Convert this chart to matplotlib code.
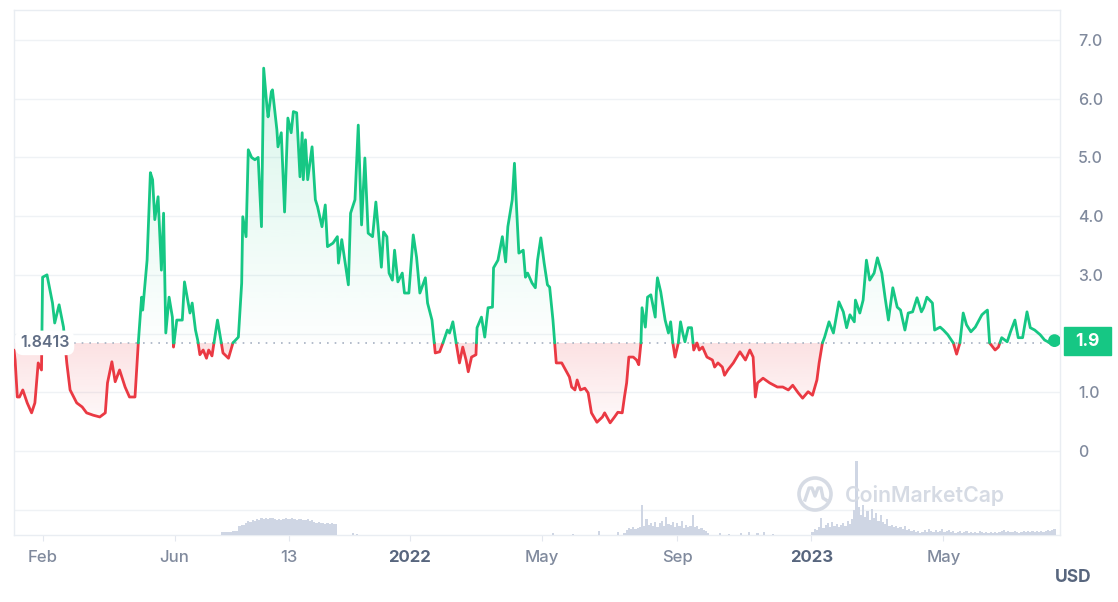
import numpy as np
import pandas as pd
import matplotlib
matplotlib.use("Agg")
import matplotlib.pyplot as plt
import matplotlib.dates as mdates
from matplotlib.path import Path
from matplotlib.patches import Rectangle, Ellipse
from matplotlib.lines import Line2D

plt.rcParams['font.family'] = ['Inter', 'DejaVu Sans']

# ---------------- data ----------------
START = "2021-01-06"
day = [0, 1, 3, 5, 8, 12, 16, 19, 22, 25,
       26, 30, 35, 37, 41, 45, 48, 51, 57, 62,
       66, 72, 78, 83, 85, 89, 92, 96, 101, 105,
       110, 113, 116, 117, 121, 124, 126, 128, 131, 134,
       136, 138, 141, 144, 145, 148, 153, 155, 160, 162,
       165, 167, 169, 172, 175, 177, 180, 185, 187, 190,
       195, 199, 204, 207, 208, 211, 213, 216, 219, 222,
       225, 227, 230, 231, 234, 235, 239, 240, 243, 246,
       249, 252, 254, 257, 260, 262, 263, 265, 267, 271,
       274, 276, 280, 283, 285, 290, 294, 295, 298, 304,
       306, 310, 313, 316, 319, 322, 326, 329, 331, 334,
       336, 339, 341, 344, 346, 349, 353, 355, 359, 363,
       366, 369, 374, 376, 380, 383, 387, 390, 394, 396,
       399, 402, 405, 408, 411, 413, 416, 420, 421, 425,
       428, 431, 435, 436, 440, 444, 447, 449, 453, 455,
       457, 459, 463, 465, 467, 471, 474, 476, 479, 482,
       485, 487, 490, 493, 498, 503, 505, 507, 510, 512,
       515, 519, 522, 525, 530, 535, 537, 542, 546, 549,
       553, 555, 557, 559, 563, 566, 568, 570, 571, 574,
       576, 579, 583, 584, 585, 588, 592, 595, 597, 599,
       601, 604, 606, 608, 610, 613, 616, 618, 621, 623,
       626, 630, 635, 637, 640, 644, 646, 649, 654, 660,
       665, 669, 672, 674, 676, 681, 687, 694, 699, 704,
       708, 713, 717, 722, 726, 730, 732, 735, 737, 741,
       745, 750, 754, 757, 760, 764, 765, 769, 772, 775,
       778, 782, 785, 789, 792, 795, 799, 803, 806, 810,
       813, 817, 821, 825, 827, 830, 835, 837, 842, 845,
       849, 854, 857, 860, 863, 866, 870, 874, 876, 880,
       883, 885, 887, 892, 895, 898, 903, 906, 910, 913,
       917, 921, 924, 928, 933, 937, 942, 946]
price = [1.72, 1.55, 0.92, 0.92, 1.04, 0.82, 0.65, 0.82, 1.50, 1.38,
         2.96, 3.00, 2.52, 2.18, 2.49, 2.11, 1.50, 1.04, 0.82, 0.75,
         0.65, 0.61, 0.58, 0.65, 1.16, 1.52, 1.18, 1.38, 1.09, 0.92,
         0.92, 1.84, 2.62, 2.40, 3.25, 4.74, 4.62, 3.94, 4.33, 3.08,
         4.05, 2.01, 2.62, 2.28, 1.77, 2.23, 2.23, 2.88, 2.35, 2.52,
         2.06, 1.89, 1.64, 1.72, 1.58, 1.72, 1.62, 2.23, 2.01, 1.67,
         1.58, 1.84, 1.94, 2.86, 3.99, 3.65, 5.13, 5.00, 4.96, 5.00,
         3.82, 6.52, 5.86, 5.69, 6.12, 6.15, 5.47, 5.18, 5.42, 4.07,
         5.67, 5.42, 5.78, 5.76, 4.67, 5.42, 4.62, 5.30, 4.62, 5.18,
         4.28, 4.16, 3.82, 4.19, 3.48, 3.54, 3.65, 3.20, 3.60, 2.83,
         4.05, 4.28, 5.55, 3.85, 4.99, 3.71, 3.65, 4.24, 3.82, 3.13,
         3.73, 3.65, 3.03, 2.91, 3.42, 2.88, 3.03, 2.69, 2.69, 3.68,
         3.30, 2.69, 2.95, 2.52, 2.23, 1.67, 1.69, 1.84, 2.06, 2.01,
         2.20, 1.84, 1.50, 1.77, 1.55, 1.35, 1.60, 1.64, 2.10, 2.28,
         1.94, 2.44, 2.45, 3.12, 3.25, 3.65, 3.22, 3.82, 4.28, 4.90,
         4.11, 3.37, 3.42, 2.96, 3.03, 2.86, 2.78, 3.25, 3.63, 3.20,
         2.83, 2.79, 2.23, 1.50, 1.50, 1.33, 1.26, 1.09, 1.04, 1.21,
         1.04, 1.07, 0.99, 0.65, 0.49, 0.58, 0.65, 0.48, 0.58, 0.66,
         0.65, 0.92, 1.16, 1.60, 1.60, 1.55, 1.47, 1.84, 2.44, 2.11,
         2.62, 2.66, 2.28, 2.71, 2.95, 2.71, 2.23, 2.01, 2.20, 1.84,
         1.60, 1.84, 2.20, 2.01, 1.86, 2.10, 2.10, 1.72, 1.84, 1.72,
         1.77, 1.60, 1.55, 1.43, 1.50, 1.43, 1.29, 1.38, 1.50, 1.69,
         1.55, 1.72, 1.60, 0.92, 1.16, 1.24, 1.16, 1.09, 1.09, 1.04,
         1.12, 0.99, 0.90, 1.01, 0.95, 1.21, 1.50, 1.84, 1.94, 2.20,
         2.01, 2.54, 2.37, 2.10, 2.32, 2.20, 2.57, 2.35, 2.57, 3.25,
         2.91, 3.03, 3.29, 3.03, 2.61, 2.23, 2.78, 2.45, 2.40, 2.06,
         2.35, 2.37, 2.61, 2.37, 2.44, 2.62, 2.52, 2.06, 2.11, 2.06,
         1.98, 1.84, 1.65, 1.84, 2.35, 2.15, 2.03, 2.11, 2.18, 2.32,
         2.37, 2.40, 1.84, 1.72, 1.77, 1.93, 1.86, 2.03, 2.23, 1.93,
         1.93, 2.37, 2.10, 2.06, 1.98, 1.89, 1.84, 1.88]

# trading volume (relative units), days since START
vol_day = [189, 191, 193, 195, 197, 199, 201, 203, 205, 207,
           209, 211, 213, 215, 217, 219, 221, 223, 225, 227,
           229, 231, 233, 235, 237, 239, 241, 243, 245, 247,
           249, 251, 253, 255, 257, 259, 261, 263, 265, 267,
           269, 271, 273, 275, 277, 279, 281, 283, 285, 287,
           289, 291, 293, 308, 312, 490, 508, 532, 549, 555,
           557, 559, 561, 563, 565, 567, 569, 571, 573, 575,
           577, 579, 581, 583, 585, 587, 589, 591, 593, 595,
           597, 599, 601, 603, 605, 607, 609, 611, 613, 615,
           617, 619, 621, 623, 625, 627, 629, 631, 642, 650,
           661, 668, 676, 682, 690, 726, 728, 730, 732, 734,
           736, 738, 740, 742, 744, 746, 748, 750, 752, 754,
           756, 758, 760, 762, 764, 766, 768, 770, 772, 774,
           776, 778, 780, 782, 784, 786, 788, 790, 792, 794,
           796, 798, 800, 802, 804, 806, 808, 810, 812, 814,
           816, 818, 820, 822, 824, 826, 828, 830, 832, 834,
           836, 838, 840, 842, 844, 846, 848, 850, 852, 854,
           856, 858, 860, 862, 864, 866, 868, 870, 872, 874,
           876, 878, 880, 882, 884, 886, 888, 890, 892, 894,
           896, 898, 900, 902, 904, 906, 908, 910, 912, 914,
           916, 918, 920, 922, 924, 926, 928, 930, 932, 934,
           936, 938, 940, 942, 944, 946]
volume = [3, 3, 3, 3, 3, 4, 4, 4, 9, 10,
          10, 12, 14, 13, 15, 14, 16, 15, 17, 16,
          17, 16, 17, 17, 16, 15, 16, 15, 16, 17,
          16, 16, 17, 16, 15, 16, 16, 15, 15, 16,
          14, 15, 13, 12, 13, 12, 12, 11, 12, 11,
          12, 11, 11, 2, 1, 2, 1, 4, 3, 2,
          5, 7, 6, 8, 6, 7, 8, 30, 9, 16,
          10, 12, 9, 13, 8, 12, 14, 9, 18, 11,
          10, 13, 8, 12, 9, 14, 7, 10, 8, 9,
          20, 8, 9, 6, 7, 5, 4, 2, 2, 1,
          2, 3, 2, 3, 1, 3, 6, 5, 8, 17,
          7, 10, 12, 8, 13, 9, 11, 8, 10, 12,
          9, 14, 11, 16, 25, 74, 28, 20, 30, 18,
          24, 15, 26, 17, 22, 14, 20, 13, 11, 16,
          9, 10, 8, 9, 7, 8, 6, 9, 5, 6,
          4, 5, 3, 4, 2, 3, 5, 3, 6, 4,
          3, 5, 3, 4, 6, 3, 4, 5, 3, 4,
          2, 3, 4, 2, 3, 4, 2, 3, 2, 3,
          2, 4, 3, 2, 3, 2, 3, 2, 3, 2,
          3, 4, 5, 3, 4, 3, 3, 4, 3, 2,
          3, 4, 3, 4, 3, 4, 3, 4, 3, 4,
          3, 4, 5, 4, 5, 6]

baseline = 1.8413
last_label = "1.9"
xtick_dates = ["2021-02-01", "2021-06-01", "2021-09-13", "2022-01-01",
               "2022-05-01", "2022-09-01", "2023-01-01", "2023-05-01"]
xtick_labels = ["Feb", "Jun", "13", "2022", "May", "Sep", "2023", "May"]
xtick_bold = [False, False, False, True, False, False, True, False]
ytick_vals = [0, 1, 2, 3, 4, 5, 6, 7]
ytick_labels = ["0", "1.0", "", "3.0", "4.0", "5.0", "6.0", "7.0"]
span_days = 951

# ---------------- styling ----------------
GREEN = "#16c784"
RED = "#ea3943"
GRID = "#eff2f5"
TXT = "#808a9d"
TXT_DARK = "#58667e"

W, H = 1118, 602
fig = plt.figure(figsize=(W / 100, H / 100), dpi=100)
ax_l, ax_r, ax_t, ax_b = 14, 1060, 10, 535
ax = fig.add_axes([ax_l / W, (H - ax_b) / H, (ax_r - ax_l) / W, (ax_b - ax_t) / H])

start = pd.Timestamp(START)
dates = start + pd.to_timedelta(day, unit="D")
x = mdates.date2num(dates.to_pydatetime())
y = np.array(price, dtype=float)
x0 = mdates.date2num(start.to_pydatetime())
x1 = x0 + span_days
ymin, ymax = -1.43, 7.51
ax.set_xlim(x0, x1)
ax.set_ylim(ymin, ymax)

# insert baseline crossings so colours switch exactly at the baseline
xs, ys = [], []
for i in range(len(x) - 1):
    xs.append(x[i]); ys.append(y[i])
    if (y[i] - baseline) * (y[i + 1] - baseline) < 0:
        t = (baseline - y[i]) / (y[i + 1] - y[i])
        xs.append(x[i] + t * (x[i + 1] - x[i])); ys.append(baseline)
xs.append(x[-1]); ys.append(y[-1])
xs = np.array(xs); ys = np.array(ys)

# gridlines
for v in range(-1, 8):
    ax.axhline(v, color=GRID, lw=1.0, zorder=0)


def gradient_fill(lower, upper, color, a_top, a_bottom, y_lo, y_hi):
    coll = ax.fill_between(xs, lower, upper, color="none", lw=0)
    paths = coll.get_paths()
    if not paths:
        return
    path = Path.make_compound_path(*paths)
    rgb = matplotlib.colors.to_rgb(color)
    n = 256
    img = np.zeros((n, 1, 4))
    img[:, 0, 0], img[:, 0, 1], img[:, 0, 2] = rgb
    img[:, 0, 3] = np.linspace(a_bottom, a_top, n)
    im = ax.imshow(img, extent=[x0, x1, y_lo, y_hi], origin="lower",
                   aspect="auto", zorder=1, interpolation="bilinear")
    im.set_clip_path(path, transform=ax.transData)


gradient_fill(np.full_like(ys, baseline), np.maximum(ys, baseline), GREEN,
              0.17, 0.01, baseline, 6.6)
gradient_fill(np.minimum(ys, baseline), np.full_like(ys, baseline), RED,
              0.15, 0.02, 0.4, baseline)

# baseline dotted line
ax.plot([x0 + 55, x1], [baseline, baseline], color="#a7b1c2", lw=1.2,
        ls=(0, (1, 3.6)), zorder=2)

g = np.where(ys >= baseline, ys, np.nan)
r = np.where(ys <= baseline, ys, np.nan)
ax.plot(xs, r, color=RED, lw=2.0, solid_joinstyle="round", solid_capstyle="round", zorder=3)
ax.plot(xs, g, color=GREEN, lw=2.0, solid_joinstyle="round", solid_capstyle="round", zorder=4)
ax.scatter([x[-1]], [y[-1]], s=85, color=GREEN, zorder=5, edgecolors="none")

# volume (own scale at the bottom)
axv = fig.add_axes(ax.get_position(), sharex=ax)
axv.set_ylim(0, ax_b - ax_t)
axv.patch.set_visible(False)
axv.axis("off")
vx = mdates.date2num((start + pd.to_timedelta(vol_day, unit="D")).to_pydatetime())
axv.bar(vx, volume, width=2.0, color="#cfd6e4", lw=0, align="center", zorder=1)

# axes style
for s in ax.spines.values():
    s.set_color("#e9edf2")
    s.set_linewidth(1.0)
ax.set_xticks(mdates.date2num(pd.to_datetime(xtick_dates).to_pydatetime()))
ax.set_xticklabels(xtick_labels)
for lab, b in zip(ax.get_xticklabels(), xtick_bold):
    lab.set_fontweight("bold" if b else "medium")
    lab.set_color(TXT_DARK if b else TXT)
    lab.set_fontsize(12)
ax.tick_params(axis="x", length=4, color="#e3e7ee", pad=7)
ax.yaxis.tick_right()
ax.set_yticks(ytick_vals)
ax.set_yticklabels(ytick_labels)
ax.tick_params(axis="y", length=0, pad=13, labelsize=11.5, labelcolor=TXT)
for lab in ax.get_yticklabels():
    lab.set_fontweight("medium")
ax.grid(False)

# baseline label
ax.text(x0 + 28, baseline, f"{baseline:.4f}", ha="center", va="center",
        fontsize=11.5, color="#616e85", fontweight="semibold", zorder=6,
        bbox=dict(boxstyle="round,pad=0.3,rounding_size=0.5", fc="white", ec="none"))

# last price tag
fig.patches.append(Rectangle((1064 / W, (H - 355) / H), 47 / W, 28 / H,
                             transform=fig.transFigure, color=GREEN, zorder=10))
fig.text(1087.5 / W, (H - 341) / H, last_label, ha="center", va="center",
         color="white", fontsize=12.5, fontweight="bold", zorder=11)

# currency label
fig.text(1073 / W, (H - 577) / H, "USD", ha="center", va="center",
         color=TXT_DARK, fontsize=12.5, fontweight="bold")

# watermark
wm = "#d6dbe4"
fig.patches.append(Ellipse((815 / W, (H - 494) / H), 32 / W, 32 / H,
                           transform=fig.transFigure, fill=False, ec=wm, lw=2.6, zorder=2))
wx = np.array([805, 809, 812, 815, 818, 821, 823, 826]) / W
wy = (H - np.array([500, 488, 488, 496, 488, 488, 498, 500])) / H
fig.lines.append(Line2D(wx, wy, transform=fig.transFigure, color=wm, lw=2.4,
                        solid_joinstyle="round"))
fig.text(845 / W, (H - 496) / H, "CoinMarketCap", ha="left", va="center",
         color=wm, fontsize=15.3, fontweight="semibold")

fig.savefig("out.png", dpi=100)
